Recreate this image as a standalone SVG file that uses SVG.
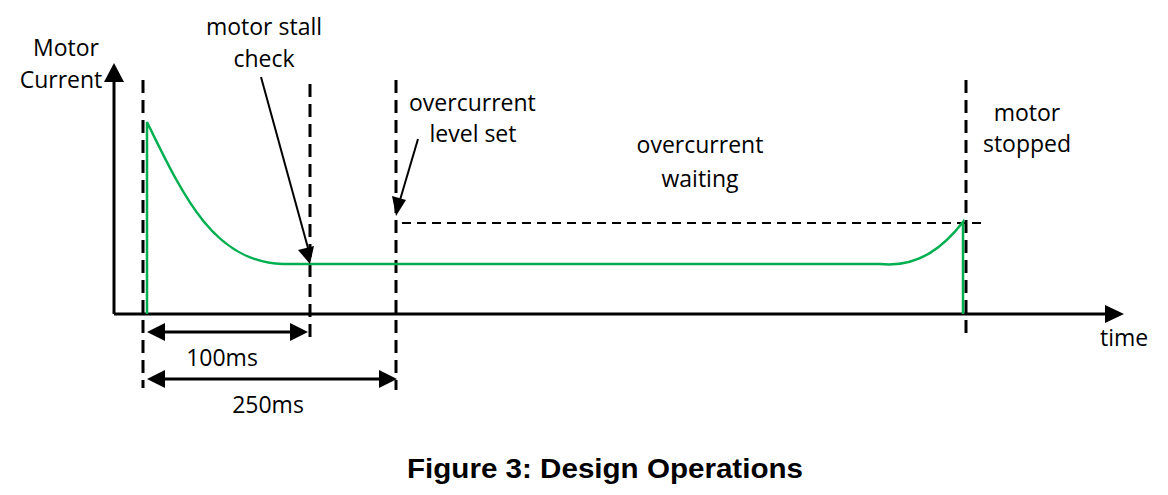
<svg xmlns="http://www.w3.org/2000/svg" width="1168" height="495" viewBox="0 0 1168 495">
<style>
.t{font-family:"Open Sans","Noto Sans",sans-serif;font-size:23px;fill:#000}
.c{text-anchor:middle}
.d{stroke:#000;stroke-width:3;stroke-dasharray:13,7;fill:none}
.dh{stroke:#000;stroke-width:2;stroke-dasharray:9,6;fill:none}
.ax{stroke:#000;stroke-width:3;fill:none}
.g{stroke:#00B050;stroke-width:2.5;fill:none}
.ln{stroke:#000;stroke-width:2;fill:none}
</style>
<rect width="1168" height="495" fill="#fff"/>
<g id="axes">
<path class="ax" d="M114,314 V82"/>
<path d="M104,82 L114,63 L124,82 z" fill="#000"/>
<path class="ax" d="M114,314 H1106"/>
<path d="M1105,305 L1124,314 L1105,323 z" fill="#000"/>
</g>
<g id="markers">
<path class="d" d="M143,80 V388"/>
<path class="d" d="M310,84 V338"/>
<path class="d" d="M396,80 V390"/>
<path class="d" d="M966,80 V338"/>
<path class="dh" d="M402,223 H983"/>
</g>
<g id="current">
<path class="g" d="M147,314 V122 C185,200 215,262 283,264 H880 C920,268 945,245 963,222 V314"/>
</g>
<g id="connectors">
<path class="ln" d="M261,77 L308,248"/>
<path d="M298,250 L310,264 L314,246 z" fill="#000"/>
<path class="ln" d="M418,139 L400,200"/>
<path d="M392,196 L396,216 L406,200 z" fill="#000"/>
<path class="ax" d="M163,332 H292"/>
<path d="M165,323 L147,332 L165,341 z" fill="#000"/>
<path d="M290,323 L308,332 L290,341 z" fill="#000"/>
<path class="ax" d="M163,379 H381"/>
<path d="M165,370 L147,379 L165,388 z" fill="#000"/>
<path d="M379,370 L397,379 L379,388 z" fill="#000"/>
</g>
<g id="labels">
<text class="t c" x="66" y="56">Motor</text>
<text class="t c" x="61" y="88">Current</text>
<text class="t c" x="264" y="35">motor stall</text>
<text class="t c" x="264" y="67">check</text>
<text class="t" x="409" y="111">overcurrent</text>
<text class="t c" x="473" y="142">level set</text>
<text class="t c" x="700" y="153">overcurrent</text>
<text class="t c" x="700" y="187">waiting</text>
<text class="t c" x="1027" y="121">motor</text>
<text class="t c" x="1027" y="152">stopped</text>
<text class="t" x="1100" y="346">time</text>
<text class="t c" x="222" y="366">100ms</text>
<text class="t c" x="268" y="413">250ms</text>
<text x="605" y="478" style="font-family:'Liberation Sans',Arial,sans-serif;font-weight:bold;font-size:27px" text-anchor="middle" textLength="396" lengthAdjust="spacingAndGlyphs">Figure 3: Design Operations</text>
</g>
</svg>
